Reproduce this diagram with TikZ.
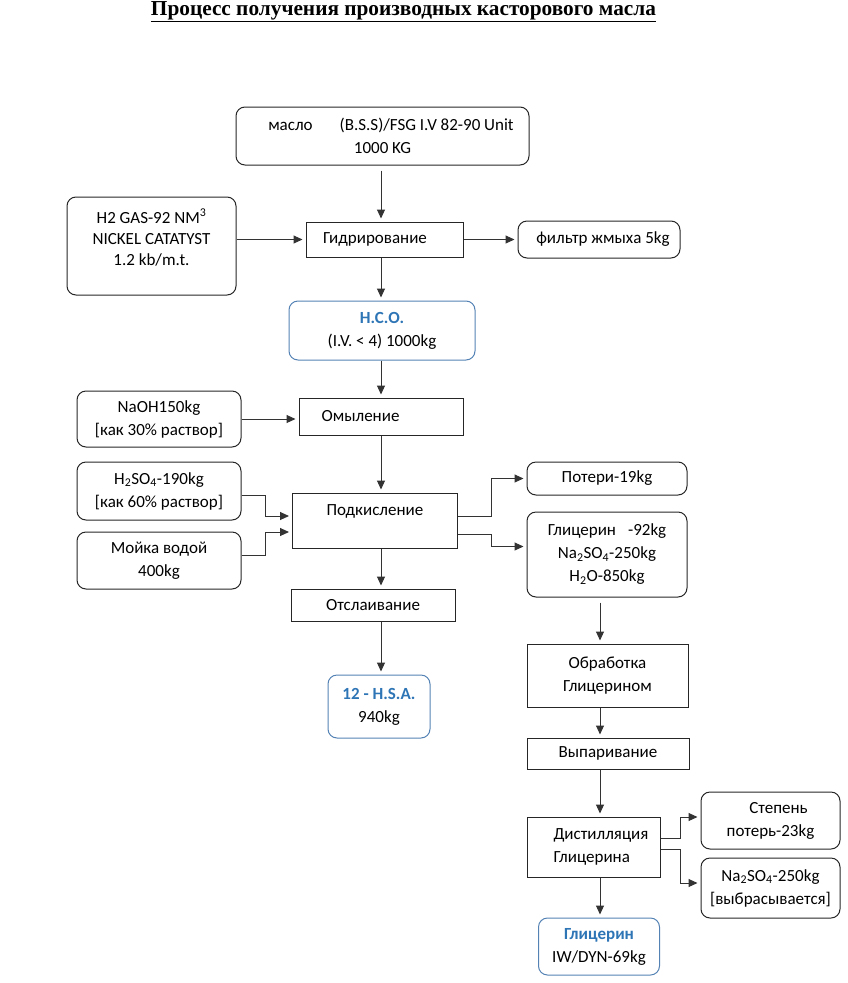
\documentclass[tikz,border=0pt]{standalone}
\usepackage{fontspec}
\setmainfont{Carlito}
\newfontfamily\titlefont{Liberation Serif}
\usetikzlibrary{arrows.meta, calc}
\definecolor{hblue}{RGB}{46,117,182}
\definecolor{hbord}{RGB}{84,130,180}
\tikzset{%
    pro/.style={rectangle, draw=black!85, line width=1pt, inner sep=0pt, align=center},
    inp/.style={pro, rounded corners=9pt},
    res/.style={inp, draw=hbord},
    arr/.style={line width=1pt, draw=black!80, -{Triangle[length=9pt,width=8pt]}, shorten >=3pt},
}

\begin{document}
\begin{tikzpicture}[x=1pt, y=-1pt, font=\fontsize{17}{23}\selectfont]
    \useasboundingbox (0,0) rectangle (847,983);
    \node (title) at (403.5,12) {\titlefont\fontsize{21.3}{24}\selectfont\bfseries\underline{Процесс получения производных касторового масла}};
    \coordinate (mc) at (381,0);
    \coordinate (rc) at (600,0);
    \node[inp, minimum width=293, minimum height=58] (oil) at (382.5,136) {\hspace*{17pt}масло\hspace{27pt}(B.S.S)/FSG I.V 82-90 Unit\\1000 KG};
    \node[inp, minimum width=169, minimum height=98, font=\fontsize{17}{21}\selectfont] (gas) at (151.5,246) {H2 GAS-92 NM\textsuperscript{3}\\NICKEL CATATYST\\1.2 kb/m.t.\\[-3pt]\mbox{}};
    \node[pro, minimum width=157, minimum height=35] (gid) at (384.5,239.5) {Гидрирование\hspace*{19pt}};
    \node[inp, minimum width=162, minimum height=37] (filt) at (599,239.5) {\hspace*{8pt}фильтр жмыха 5kg};
    \node[res, minimum width=186, minimum height=59] (hco) at (382,330.5) {{\color{hblue}\bfseries H.C.O.}\\(I.V. < 4) 1000kg};
    \node[pro, minimum width=164, minimum height=37] (omyl) at (381,416.5) {Омыление\hspace*{41pt}};
    \node[inp, minimum width=164, minimum height=56] (naoh) at (159,419) {NaOH150kg\\{[как 30\% раствор]}};
    \node[inp, minimum width=164, minimum height=58] (acid) at (159,491) {H\textsubscript{2}SO\textsubscript{4}-190kg\\{[как 60\% раствор]}};
    \node[inp, minimum width=164, minimum height=57] (wash) at (159,560.5) {Мойка водой\\400kg};
    \node[pro, minimum width=165, minimum height=55] (podk) at (375,520.5) {Подкисление\\[-2pt]\mbox{}};
    \node[inp, minimum width=160, minimum height=33] (loss) at (607,478.5) {Потери-19kg};
    \node[inp, minimum width=160, minimum height=85] (glyc) at (607,554.5) {Глицерин\hspace{12pt}-92kg\\Na\textsubscript{2}SO\textsubscript{4}-250kg\\H\textsubscript{2}O-850kg};
    \node[pro, minimum width=164, minimum height=32] (otsl) at (373,605) {Отслаивание};
    \node[res, minimum width=102, minimum height=63] (hsa) at (379,706.5) {{\color{hblue}\bfseries 12 - H.S.A.}\\940kg};
    \node[pro, minimum width=161, minimum height=63] (obr) at (607.5,675.5) {Обработка\\Глицерином};
    \node[pro, minimum width=162, minimum height=31] (vyp) at (608,753.5) {Выпаривание};
    \node[pro, minimum width=133, minimum height=60, align=left] (dist) at (593.5,847) {\hspace*{15pt}Дистилляция\\\hspace*{15pt}Глицерина};
    \node[inp, minimum width=139, minimum height=57] (stlo) at (770.5,820.5) {\hspace*{16pt}Степень\\потерь-23kg};
    \node[inp, minimum width=139, minimum height=60] (sulf) at (770.5,888) {Na\textsubscript{2}SO\textsubscript{4}-250kg\\{[выбрасывается]}};
    \node[res, minimum width=121, minimum height=57] (fin) at (599,946.5) {{\color{hblue}\bfseries Глицерин}\\IW/DYN-69kg};
    \draw [arr, shorten <=5pt] (oil.south -| mc) -- (gid.north -| mc);
    \draw [arr] (gas.east |- gid.west) -- (gid.west);
    \draw [arr] (gid.east) -- (filt.west);
    \draw [arr] (gid.south -| mc) -- (hco.north -| mc);
    \draw [arr] (hco.south -| mc) -- (omyl.north -| mc);
    \draw [arr] (naoh.east) -- (naoh.east -| omyl.west);
    \draw [arr] (omyl.south -| mc) -- (podk.north -| mc);
    \draw [arr] ([yshift=-4pt]acid.east) -- ++(24,0) |- ([yshift=4.5pt]podk.west);
    \draw [arr] ([yshift=5.5pt]wash.east) -- ++(24,0) |- ([yshift=-11.5pt]podk.west);
    \draw [arr] ([yshift=4.5pt]podk.east) -- ++(33,0) |- (loss.west);
    \draw [arr] ([yshift=-13.5pt]podk.east) -- ++(33,0) |- ([yshift=8pt]glyc.west);
    \draw [arr] (podk.south -| mc) -- (otsl.north -| mc);
    \draw [arr] (otsl.south -| mc) -- (hsa.north -| mc);
    \draw [arr, shorten <=5pt] (glyc.south -| rc) -- (obr.north -| rc);
    \draw [arr] (obr.south -| rc) -- (vyp.north -| rc);
    \draw [arr] (vyp.south -| rc) -- (dist.north -| rc);
    \draw [arr] ([yshift=9pt]dist.east) -- ++(20,0) |- ([yshift=3.5pt]stlo.west);
    \draw [arr] ([yshift=-2pt]dist.east) -- ++(20,0) |- ([yshift=5pt]sulf.west);
    \draw [arr] (dist.south -| rc) -- (fin.north -| rc);
\end{tikzpicture}
\end{document}
